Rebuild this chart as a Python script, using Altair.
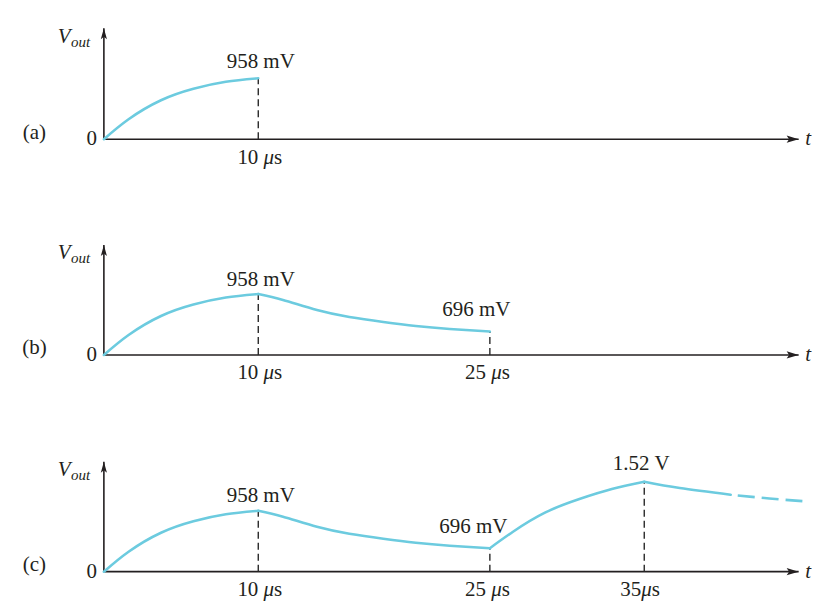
import altair as alt
import pandas as pd

# ---------------- data ----------------
# time in microseconds, drawn level of Vout (figure is schematic)
charge1_t = [0, 1.6, 3.7, 5.8, 7.9, 10]
charge1_v = [0, 20, 39, 50.5, 57.5, 61]
decay1_t = [10, 11.6, 13.8, 15.9, 18.1, 20.2, 22.4, 25]
decay1_v = [61, 55, 45, 38, 33, 29, 26, 23.5]
charge2_t = [25, 26.5, 28.6, 30.8, 32.9, 35]
charge2_v = [23.5, 40, 59.3, 72.7, 82.7, 90]
decay2_t = [35, 37.3, 40.6]
decay2_v = [90, 83.7, 77]
tail_t = [40.6, 43.1, 45.5]
tail_v = [77, 73.3, 70.3]

panel_names = ["(a)", "(b)", "(c)"]
marker_t = [[10], [10, 25], [10, 25, 35]]
marker_v = [[61], [61, 23.5], [61, 23.5, 90]]
value_text = [["958 mV"], ["958 mV", "696 mV"], ["958 mV", "696 mV", "1.52 V"]]
value_label_t = [[10.16], [10.16, 24.13], [10.16, 23.93, 34.8]]
value_label_v = [[71], [69, 38.5], [70, 39, 102]]
tick_numbers = [["10"], ["10", "25"], ["10", "25", "35"]]
tick_spaced = [[True], [True, True], [True, True, False]]
tick_center_t = [[10.1], [10.1, 24.84], [10.1, 24.84, 34.73]]
axis_top_v = [111, 110, 110]
t_axis_end = 45.0

# ---------------- styling ----------------
FONT = "Liberation Serif"
FS = 21
CYAN = "#6CCBDF"
INK = "#231F20"
W = 804
HEIGHTS = [216, 217, 165]
X_LO, X_HI = -6.21, 45.8
UP_ARROW = "M0,0L0.42,1.5L0,1.15L-0.42,1.5Z"
RIGHT_ARROW = "M0,0L-1.5,-0.45L-1.2,0L-1.5,0.45Z"

segments_per_panel = [
    [(charge1_t, charge1_v)],
    [(charge1_t, charge1_v), (decay1_t, decay1_v)],
    [(charge1_t, charge1_v), (decay1_t, decay1_v), (charge2_t, charge2_v), (decay2_t, decay2_v)],
]


def panel(i, H):
    xs = alt.Scale(domain=[X_LO, X_HI], nice=False, zero=False)
    ys = alt.Scale(domain=[131 - H, 131], nice=False, zero=False)

    def X(f):
        return alt.X(f, type="quantitative", scale=xs, axis=None)

    def Y(f):
        return alt.Y(f, type="quantitative", scale=ys, axis=None)

    layers = []

    # axes
    yaxis = pd.DataFrame({"t": [0], "v0": [0], "v1": [axis_top_v[i]]})
    layers.append(alt.Chart(yaxis).mark_rule(color=INK, strokeWidth=1.6).encode(
        x=X("t"), y=Y("v0"), y2="v1"))
    xaxis = pd.DataFrame({"t0": [0], "t1": [t_axis_end], "v": [0]})
    layers.append(alt.Chart(xaxis).mark_rule(color=INK, strokeWidth=1.6).encode(
        x=X("t0"), x2="t1", y=Y("v")))
    layers.append(alt.Chart(pd.DataFrame({"t": [0], "v": [axis_top_v[i]]})).mark_point(
        shape=UP_ARROW, size=215, filled=True, color=INK, opacity=1, strokeWidth=0).encode(
        x=X("t"), y=Y("v")))
    layers.append(alt.Chart(pd.DataFrame({"t": [t_axis_end], "v": [0]})).mark_point(
        shape=RIGHT_ARROW, size=256, filled=True, color=INK, opacity=1, strokeWidth=0).encode(
        x=X("t"), y=Y("v")))

    # dashed markers
    mk = pd.DataFrame({"t": marker_t[i], "v": marker_v[i], "base": [0] * len(marker_t[i])})
    layers.append(alt.Chart(mk).mark_rule(color="#2a2a2a", strokeWidth=1.4, strokeDash=[7, 4]).encode(
        x=X("t"), y=Y("base"), y2="v"))

    # curve
    rows = []
    for k, (ts, vs) in enumerate(segments_per_panel[i]):
        for t, v in zip(ts, vs):
            rows.append({"seg": k, "t": t, "v": v})
    curve = pd.DataFrame(rows)
    layers.append(alt.Chart(curve).mark_line(
        color=CYAN, strokeWidth=2.6, interpolate="natural", strokeCap="round").encode(
        x=X("t"), y=Y("v"), detail="seg:N"))
    if i == 2:
        tail = pd.DataFrame({"t": tail_t, "v": tail_v})
        layers.append(alt.Chart(tail).mark_line(
            color=CYAN, strokeWidth=2.6, interpolate="natural", strokeDash=[17, 7],
            strokeDashOffset=17).encode(x=X("t"), y=Y("v")))

    # value labels
    vl = pd.DataFrame({"t": value_label_t[i], "v": value_label_v[i], "txt": value_text[i]})
    layers.append(alt.Chart(vl).mark_text(
        font=FONT, fontSize=FS, color=INK, align="center", baseline="alphabetic").encode(
        x=X("t"), y=Y("v"), text="txt:N"))

    # tick labels "10 μs" with italic μ
    for num, spaced, tc in zip(tick_numbers[i], tick_spaced[i], tick_center_t[i]):
        wnum = 0.5 * FS * len(num)
        wsp = 0.25 * FS if spaced else 0.0
        wmu = 0.5 * FS
        ws = 0.389 * FS
        left = -(wnum + wsp + wmu + ws) / 2
        d = pd.DataFrame({"t": [tc], "v": [-24.5]})
        base = alt.Chart(d)
        layers.append(base.mark_text(font=FONT, fontSize=FS, color=INK, align="right",
                                     baseline="alphabetic", dx=left + wnum, text=num).encode(
            x=X("t"), y=Y("v")))
        layers.append(base.mark_text(font=FONT, fontSize=FS, color=INK, align="left",
                                     fontStyle="italic", baseline="alphabetic",
                                     dx=left + wnum + wsp, text="μ").encode(x=X("t"), y=Y("v")))
        layers.append(base.mark_text(font=FONT, fontSize=FS, color=INK, align="left",
                                     baseline="alphabetic", dx=left + wnum + wsp + wmu,
                                     text="s").encode(x=X("t"), y=Y("v")))

    # zero label, panel name, Vout, t
    one = lambda t, v: alt.Chart(pd.DataFrame({"t": [t], "v": [v]}))
    layers.append(one(-0.45, -6).mark_text(font=FONT, fontSize=FS, color=INK, align="right",
                                           baseline="alphabetic", text="0").encode(x=X("t"), y=Y("v")))
    layers.append(one(-4.5, 0.5).mark_text(font=FONT, fontSize=FS, color=INK, align="center",
                                           baseline="alphabetic", text=panel_names[i]).encode(
        x=X("t"), y=Y("v")))
    layers.append(one(-2.98, 96).mark_text(font=FONT, fontSize=FS, color=INK, align="left",
                                           fontStyle="italic", baseline="alphabetic",
                                           text="V").encode(x=X("t"), y=Y("v")))
    layers.append(one(-2.13, 92).mark_text(font=FONT, fontSize=15, color=INK, align="left",
                                           fontStyle="italic", baseline="alphabetic",
                                           text="out").encode(x=X("t"), y=Y("v")))
    layers.append(one(45.42, -6).mark_text(font=FONT, fontSize=FS, color=INK, align="left",
                                           fontStyle="italic", baseline="alphabetic",
                                           text="t").encode(x=X("t"), y=Y("v")))

    return alt.layer(*layers).properties(width=W, height=H)


chart = alt.vconcat(
    *[panel(i, h) for i, h in enumerate(HEIGHTS)], spacing=0, bounds="flush"
).properties(padding=0, background="white").configure_view(stroke=None)

chart.save("out.html", embed_options={"renderer": "svg", "actions": False})
